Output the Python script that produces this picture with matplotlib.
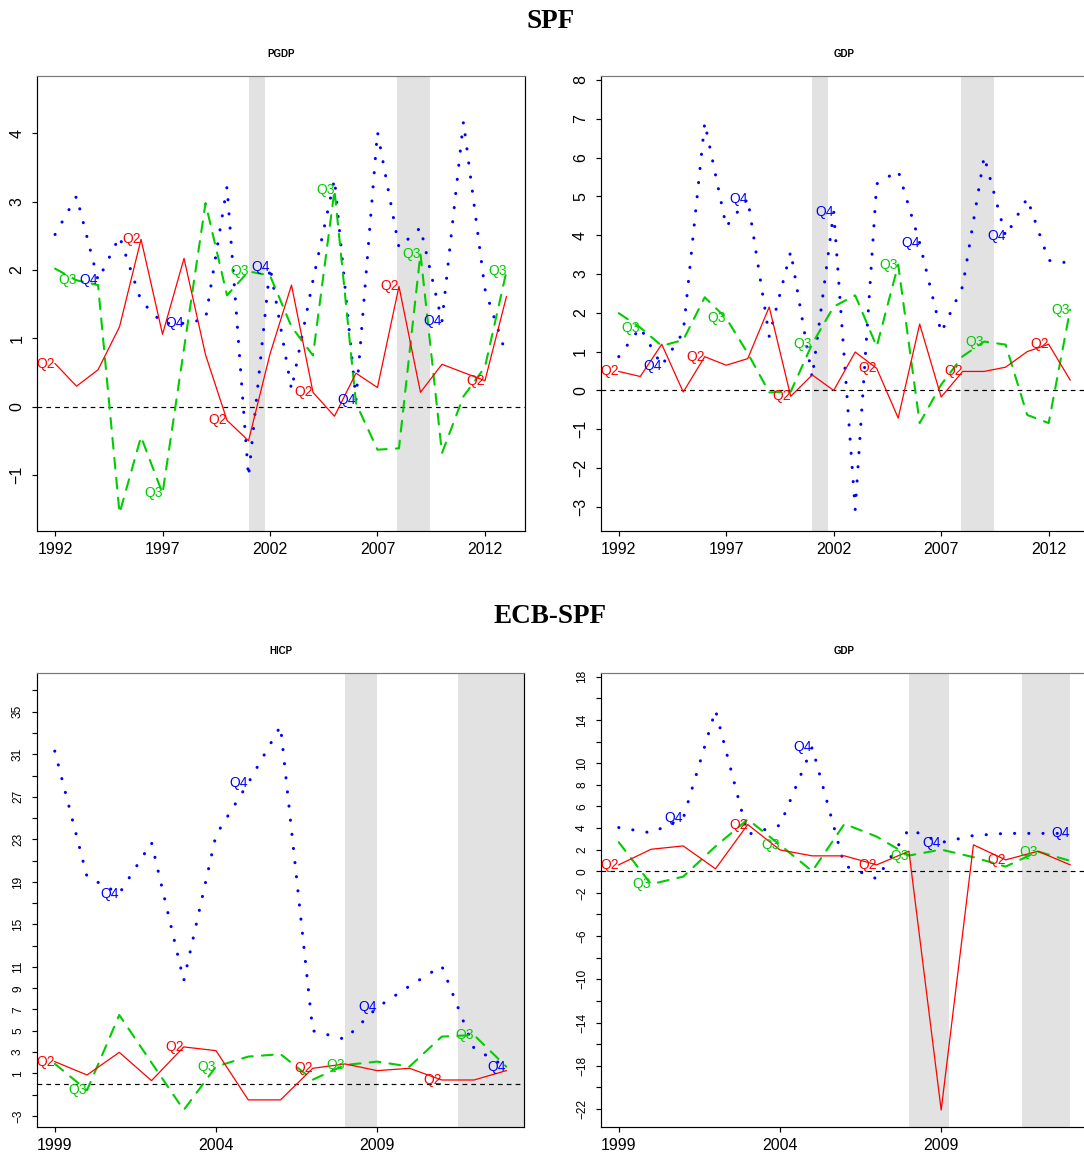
import matplotlib.pyplot as plt
import numpy as np

plt.rcParams['font.family'] = ['Liberation Sans', 'DejaVu Sans']

W, H = 1084, 1153

# SPF (US), annual 1992-2013
spf_years = np.arange(1992, 2014)
pgdp_q2 = [0.63, 0.30, 0.54, 1.17, 2.45, 1.06, 2.17, 0.76, -0.20, -0.50, 0.77,
           1.78, 0.21, -0.14, 0.49, 0.28, 1.76, 0.21, 0.62, 0.50, 0.38, 1.61]
pgdp_q3 = [2.02, 1.85, 1.78, -1.56, -0.44, -1.27, 0.85, 2.98, 1.63, 1.98, 1.92,
           1.17, 0.75, 3.17, 0.05, -0.63, -0.61, 2.24, -0.68, 0.15, 0.58, 1.98]
pgdp_q4 = [2.52, 3.08, 1.85, 2.49, 1.55, 1.22, 1.22, 1.28, 3.22, -1.03, 2.05,
           0.25, 1.85, 3.33, 0.10, 4.02, 2.33, 2.62, 1.25, 4.17, 1.72, 0.75]

gdp_q2 = [0.49, 0.36, 1.19, -0.04, 0.87, 0.65, 0.82, 2.15, -0.15, 0.40, 0.00,
          0.99, 0.57, -0.71, 1.71, -0.17, 0.49, 0.49, 0.60, 1.00, 1.19, 0.27]
gdp_q3 = [1.99, 1.62, 1.15, 1.30, 2.40, 1.86, 0.96, -0.05, -0.03, 1.20, 2.16,
          2.45, 1.13, 3.24, -0.84, 0.15, 0.88, 1.26, 1.18, -0.63, -0.84, 2.08]
gdp_q4 = [0.87, 1.62, 0.64, 1.50, 6.90, 4.22, 4.94, 1.39, 3.58, 0.33, 4.60,
          -3.07, 5.32, 5.66, 3.80, 1.49, 2.68, 6.03, 3.97, 4.95, 3.35, 3.28]

# ECB-SPF, annual 1999-2013
ecb_years = np.arange(1999, 2014)
hicp_q2 = [2.10, 0.84, 2.97, 0.31, 3.48, 3.13, -1.50, -1.50, 1.47, 1.88, 1.25,
           1.47, 0.37, 0.37, 1.25]
hicp_q3 = [1.90, -0.60, 6.48, 2.00, -2.45, 1.63, 2.57, 2.80, 0.40, 1.78, 2.10,
           1.63, 4.45, 4.60, 1.63]
hicp_q4 = [31.3, 19.5, 17.9, 22.7, 9.7, 23.4, 28.3, 33.65, 5.0, 4.2, 7.2,
           9.2, 11.1, 3.35, 1.6]

egdp_q2 = [0.59, 2.03, 2.34, 0.22, 4.32, 1.97, 1.42, 1.42, 0.59, 1.85, -22.1,
           2.44, 1.05, 1.85, 0.59]
egdp_q3 = [2.68, -1.20, -0.50, 2.30, 4.80, 2.44, 0.00, 4.38, 3.20, 1.45, 2.00,
           1.30, 0.43, 1.82, 0.96]
egdp_q4 = [4.04, 3.55, 4.90, 14.9, 3.40, 4.25, 11.47, 0.52, -0.70, 3.90, 2.65,
           3.30, 3.50, 3.50, 3.50]

spf_shades = [(2001.0, 2001.75), (2007.9, 2009.45)]
hicp_shades = [(2008.0, 2009.0), (2011.5, 2014.0)]
egdp_shades = [(2008.0, 2009.25), (2011.5, 2013.0)]

hicp_ticks = np.arange(-3, 38, 2)
hicp_shown = [-3, 1, 3, 5, 7, 9, 11, 15, 19, 23, 27, 31, 35]
egdp_ticks = np.arange(-22, 19, 2)
egdp_shown = [-22, -18, -14, -10, -6, -2, 0, 2, 4, 6, 8, 10, 14, 18]

fig = plt.figure(figsize=(W / 100, H / 100), dpi=100)


def fmt(v):
    return str(v).replace('-', '\u2212')


def make_ax(left, top, right, bottom):
    return fig.add_axes([left / W, 1 - bottom / H, (right - left) / W, (bottom - top) / H])


def panel(ax, years, q2, q3, q4, shades, title, xlim, ylim, xticks, yticks, ylabels, ysize):
    for a, b in shades:
        ax.axvspan(a, b, color='#e2e2e2', lw=0, zorder=0)
    ax.axhline(0, color='black', lw=0.85, dashes=(4, 3.5), zorder=1)
    ax.plot(years, q4, color='blue', lw=2.2, linestyle=(0, (0.05, 4.6)),
            dash_capstyle='round', zorder=2)
    ax.plot(years, q3, color='#00cd00', lw=1.5, linestyle=(0, (5.2, 4.4)),
            dash_capstyle='round', zorder=3)
    ax.plot(years, q2, color='red', lw=0.9, zorder=4)
    series = [('Q2', q2, 'red'), ('Q3', q3, '#00cd00'), ('Q4', q4, 'blue')]
    for k, (name, vals, col) in enumerate(series):
        for i in range(k, len(years), 4):
            ax.text(years[i], vals[i], name, color=col, ha='right', va='center',
                    fontsize=10, zorder=5)
    ax.set_xlim(xlim)
    ax.set_ylim(ylim)
    ax.set_xticks(xticks)
    ax.set_xticklabels([str(x) for x in xticks], fontsize=11.5)
    ax.set_yticks(yticks)
    ax.set_yticklabels(ylabels, rotation=90, va='center', fontsize=ysize)
    ax.tick_params(direction='out', length=3.6, width=0.85)
    ax.tick_params(axis='x', pad=4.0)
    ax.tick_params(axis='y', pad=5.5)
    for s in ax.spines.values():
        s.set_linewidth(0.85)
    ax.spines['top'].set_color('#777777')
    ax.text(0.5, 1 + 22 / 455, title, transform=ax.transAxes, ha='center',
            va='center', fontsize=7, fontweight='bold')


spf_xlim = (1991.16, 2013.84)
ecb_xlim = (1998.44, 2013.56)
spf_xt = [1992, 1997, 2002, 2007, 2012]
ecb_xt = [1999, 2004, 2009]

ax1 = make_ax(37, 76, 524.5, 531)
panel(ax1, spf_years, pgdp_q2, pgdp_q3, pgdp_q4, spf_shades, 'PGDP', spf_xlim,
      (-1.82, 4.84), spf_xt, range(-1, 5), [fmt(v) for v in range(-1, 5)], 11.5)

ax2 = make_ax(600.7, 76, 1088.2, 531)
panel(ax2, spf_years, gdp_q2, gdp_q3, gdp_q4, spf_shades, 'GDP', spf_xlim,
      (-3.62, 8.1), spf_xt, range(-3, 9), [fmt(v) for v in range(-3, 9)], 11.5)

ax3 = make_ax(36.7, 672.7, 524.3, 1127)
panel(ax3, ecb_years, hicp_q2, hicp_q3, hicp_q4, hicp_shades, 'HICP', ecb_xlim,
      (-4.05, 38.67), ecb_xt, hicp_ticks,
      [fmt(v) if v in hicp_shown else '' for v in hicp_ticks], 8.6)

ax4 = make_ax(600.7, 672.7, 1088.2, 1127)
panel(ax4, ecb_years, egdp_q2, egdp_q3, egdp_q4, egdp_shades, 'GDP', ecb_xlim,
      (-23.67, 18.37), ecb_xt, egdp_ticks,
      [fmt(v) if v in egdp_shown else '' for v in egdp_ticks], 8.6)

fig.text(550.7 / W, 1 - 28.3 / H, 'SPF', ha='center', va='baseline',
         family='Liberation Serif', weight='bold', size=19.5)
fig.text(549.5 / W, 1 - 623.3 / H, 'ECB-SPF', ha='center', va='baseline',
         family='Liberation Serif', weight='bold', size=19.5)

fig.savefig('out.png', dpi=100)
